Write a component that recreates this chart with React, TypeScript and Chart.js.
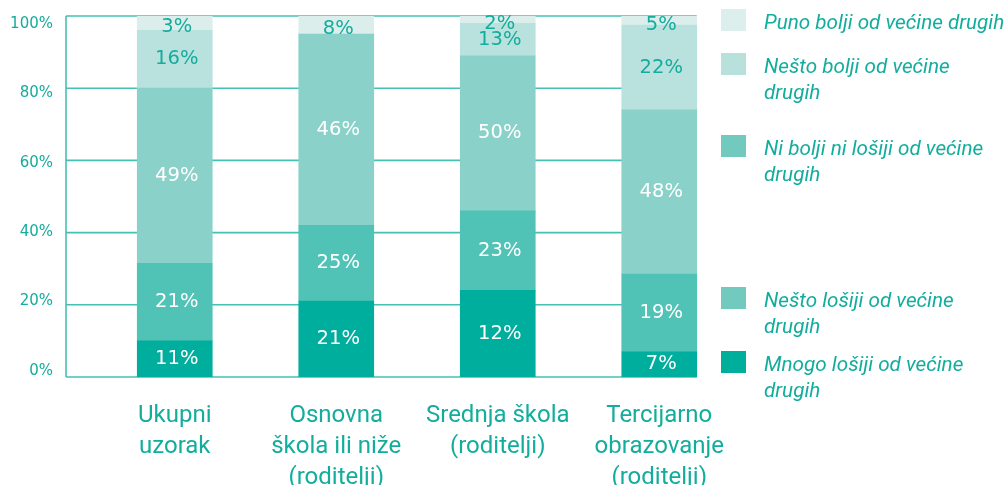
import React, { useEffect, useRef } from 'react';
import { Chart, registerables } from 'chart.js';

Chart.register(...registerables);

// ---- data ----
const categories: string[][] = [
  ['Ukupni', 'uzorak'],
  ['Osnovna', 'škola ili niže', '(roditelji)'],
  ['Srednja škola', '(roditelji)'],
  ['Tercijarno', 'obrazovanje', '(roditelji)'],
];

const seriesNames = [
  'Mnogo lošiji od većine drugih',
  'Nešto lošiji od većine drugih',
  'Ni bolji ni lošiji od većine drugih',
  'Nešto bolji od većine drugih',
  'Puno bolji od većine drugih',
];

// segment heights as drawn (percent of bar)
const mnogoLosiji = [10, 21, 24, 7];
const nestoLosiji = [21.5, 21, 22, 21.5];
const niBoljiNiLosiji = [48.5, 53, 43, 45.5];
const nestoBolji = [16, 0, 9, 23.5];
const punoBolji = [4, 5, 2, 2.5];

// printed labels
const mnogoLosijiLabels = ['11%', '21%', '12%', '7%'];
const nestoLosijiLabels = ['21%', '25%', '23%', '19%'];
const niBoljiNiLosijiLabels = ['49%', '46%', '50%', '48%'];
const nestoBoljiLabels = ['16%', '', '13%', '22%'];
const punoBoljiLabels = ['3%', '8%', '2%', '5%'];

const yTicks = [0, 20, 40, 60, 80, 100];

const legendLines: string[][] = [
  ['Puno bolji od većine drugih'],
  ['Nešto bolji od većine', 'drugih'],
  ['Ni bolji ni lošiji od većine', 'drugih'],
  ['Nešto lošiji od većine', 'drugih'],
  ['Mnogo lošiji od većine', 'drugih'],
];

// ---- styles ----
const barColors = ['#00ae9d', '#50c2b6', '#8ad2c9', '#b9e1dd', '#dceeec'];
const legendColors = ['#dcefec', '#b8e1dc', '#72c9be', '#72c9be', '#00ae9c'];
const legendTops = [9, 53, 135, 287, 351];
const TEAL = '#13ad9d';
const GRID = '#45c1b3';

const seriesValues = [mnogoLosiji, nestoLosiji, niBoljiNiLosiji, nestoBolji, punoBolji];
const seriesLabels = [mnogoLosijiLabels, nestoLosijiLabels, niBoljiNiLosijiLabels, nestoBoljiLabels, punoBoljiLabels];

const framePlugin = {
  id: 'frame',
  beforeDatasetsDraw(chart: any) {
    const yb = chart.scales.yBars;
    const { ctx, chartArea } = chart;
    const meta = chart.getDatasetMeta(0);
    const last = meta.data[meta.data.length - 1];
    const right = last.x + last.width / 2;
    const left = chartArea.left - 28;
    ctx.save();
    ctx.strokeStyle = GRID;
    ctx.lineWidth = 1.6;
    for (const v of yTicks) {
      const y = yb.getPixelForValue(v);
      ctx.beginPath();
      ctx.moveTo(left, y);
      ctx.lineTo(right, y);
      ctx.stroke();
    }
    ctx.beginPath();
    ctx.moveTo(left, yb.getPixelForValue(100));
    ctx.lineTo(left, yb.getPixelForValue(0));
    ctx.stroke();
    ctx.restore();
  },
};

const labelPlugin = {
  id: 'segLabels',
  afterDatasetsDraw(chart: any) {
    const { ctx } = chart;
    ctx.save();
    ctx.font = '19.5px "DejaVu Sans"';
    ctx.textAlign = 'center';
    ctx.textBaseline = 'middle';
    chart.data.datasets.forEach((_: any, i: number) => {
      const meta = chart.getDatasetMeta(i);
      meta.data.forEach((el: any, j: number) => {
        const txt = seriesLabels[i][j];
        if (!txt) return;
        const cy = (el.y + el.base) / 2;
        ctx.fillStyle = i >= 3 ? TEAL : '#ffffff';
        ctx.fillText(txt, el.x + 2, i === 4 ? cy + 4 : cy);
      });
    });
    ctx.restore();
  },
};

export default function App() {
  const ref = useRef<HTMLCanvasElement | null>(null);

  useEffect(() => {
    if (!ref.current) return;
    const chart = new Chart(ref.current, {
      type: 'bar',
      data: {
        labels: categories as any,
        datasets: seriesValues.map((vals, i) => ({
          label: seriesNames[i],
          data: vals,
          backgroundColor: barColors[i],
          borderWidth: 0,
          barThickness: 75,
          yAxisID: 'yBars',
        })),
      },
      options: {
        animation: false,
        responsive: false,
        devicePixelRatio: 1,
        layout: { padding: { top: 16, right: 266, left: 0, bottom: 0 } },
        plugins: {
          legend: { display: false },
          tooltip: { enabled: false },
        },
        scales: {
          x: {
            stacked: true,
            grid: { display: false },
            border: { display: false },
            ticks: {
              color: TEAL,
              font: { family: 'Roboto', size: 24, lineHeight: 1.3 },
              padding: 15,
              maxRotation: 0,
              autoSkip: false,
            },
            afterFit(s: any) {
              s.height = 108;
            },
          },
          y: {
            position: 'left',
            min: -1.73,
            max: 102.3,
            grid: { display: false, drawTicks: false },
            border: { display: false },
            afterBuildTicks(s: any) {
              s.ticks = yTicks.map((v) => ({ value: v }));
            },
            ticks: {
              color: TEAL,
              font: { family: 'DejaVu Sans', size: 15 },
              padding: 41,
              callback: (v: any) => v + '%',
            },
            afterFit(s: any) {
              s.width = 94;
              s.paddingTop = 0;
              s.paddingBottom = 0;
            },
          },
          yBars: {
            display: false,
            stacked: true,
            min: 0,
            max: 100,
          },
        },
      } as any,
      plugins: [framePlugin, labelPlugin],
    });
    return () => chart.destroy();
  }, []);

  return (
    <div style={{ position: 'absolute', left: 0, top: 0, width: 1006, height: 485, background: '#fff' }}>
      <canvas ref={ref} width={1006} height={485} style={{ display: 'block', width: 1006, height: 485 }} />
      {legendLines.map((lines, i) => (
        <div key={i} style={{ position: 'absolute', left: 721, top: legendTops[i] }}>
          <div
            style={{
              position: 'absolute',
              left: 0,
              top: 0,
              width: 25,
              height: 22,
              background: legendColors[i],
            }}
          />
          <div
            style={{
              position: 'absolute',
              left: 43,
              top: 0,
              whiteSpace: 'nowrap',
              fontFamily: 'Roboto',
              fontStyle: 'italic',
              fontSize: 20.7,
              lineHeight: '26px',
              color: TEAL,
            }}
          >
            {lines.map((l, k) => (
              <div key={k}>{l}</div>
            ))}
          </div>
        </div>
      ))}
    </div>
  );
}
